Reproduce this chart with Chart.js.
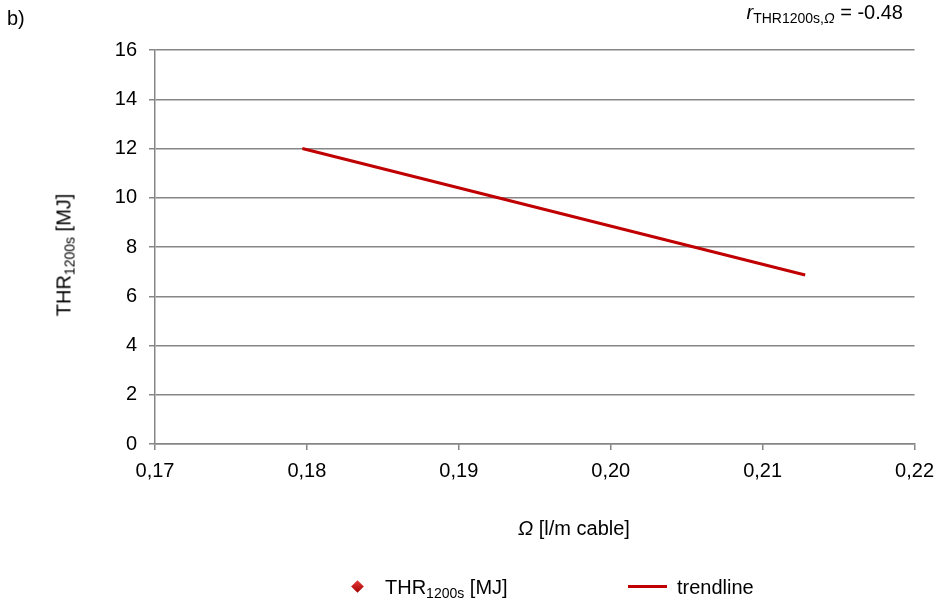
<!DOCTYPE html>
<html>
<head>
<meta charset="utf-8">
<script src="https://cdn.jsdelivr.net/npm/chart.js@4/dist/chart.umd.min.js"></script>
<style>
  body { margin: 0; background: #fff; font-family: "Liberation Sans", Arial, sans-serif; }
  #wrap { position: relative; width: 943px; height: 602px; }
  .lbl { position: absolute; font-size: 20px; color: #000; white-space: nowrap; line-height: 1; }
  .lbl sub { font-size: 14px; vertical-align: -4px; }
  #ytitle { left: 65px; top: 255px; transform: translate(-50%, -50%) rotate(-90deg); }
  #diamond { position: absolute; left: 353px; top: 582px; width: 9px; height: 9px; transform: rotate(45deg);
             background: linear-gradient(135deg, #e83a3a, #a00000); }
  #legline { position: absolute; left: 628px; top: 585px; width: 39px; height: 3px; background: #c00000; }
</style>
</head>
<body>
<div id="wrap">
  <canvas id="chart" width="943" height="602"></canvas>
  <div class="lbl" style="left:7px; top:8px;">b)</div>
  <div class="lbl" style="right:40px; top:2px;"><i>r</i><sub>THR1200s,<i>Ω</i></sub> = -0.48</div>
  <div class="lbl" id="ytitle">THR<sub>1200s</sub> [MJ]</div>
  <div class="lbl" style="left:518px; top:518px;"><i>Ω</i> [l/m cable]</div>
  <div id="diamond"></div>
  <div class="lbl" style="left:385px; top:577px;">THR<sub>1200s</sub> [MJ]</div>
  <div id="legline"></div>
  <div class="lbl" style="left:677px; top:577px;">trendline</div>
</div>
<script>
// measured points (none visible in the picture)
var omegaValues = [];
var thrValues = [];
// trendline end points
var trendX = [0.1797, 0.2128];
var trendY = [12.0, 6.86];

var xTicks = [0.17, 0.18, 0.19, 0.20, 0.21, 0.22];
var yTicks = [0, 2, 4, 6, 8, 10, 12, 14, 16];

var ctx = document.getElementById('chart').getContext('2d');
new Chart(ctx, {
    type: 'scatter',
    data: {
        datasets: [{
            label: 'THR1200s [MJ]',
            data: omegaValues.map(function(x, i) { return { x: x, y: thrValues[i] }; }),
            pointStyle: 'rectRot',
            pointRadius: 6,
            backgroundColor: '#c00000',
            borderColor: '#a00000'
        }, {
            label: 'trendline',
            type: 'line',
            data: trendX.map(function(x, i) { return { x: x, y: trendY[i] }; }),
            borderColor: '#c00000',
            borderWidth: 3,
            pointRadius: 0,
            fill: false
        }]
    },
    options: {
        responsive: false,
        animation: false,
        layout: { padding: { left: 100, right: 28, top: 50, bottom: 120 } },
        plugins: { legend: { display: false }, tooltip: { enabled: false } },
        scales: {
            x: {
                type: 'linear',
                min: 0.17, max: 0.22,
                afterBuildTicks: function(s) { s.ticks = xTicks.map(function(v) { return { value: v }; }); },
                afterFit: function(s) { s.height = 38; },
                grid: { drawOnChartArea: false, tickLength: 6, color: '#868686', lineWidth: 1.5 },
                border: { color: '#868686', width: 1.5 },
                ticks: {
                    padding: 9,
                    color: '#000',
                    font: { family: 'Liberation Sans', size: 20 },
                    callback: function(v) { return v.toFixed(2).replace('.', ','); }
                }
            },
            y: {
                min: 0, max: 16,
                afterBuildTicks: function(s) { s.ticks = yTicks.map(function(v) { return { value: v }; }); },
                afterFit: function(s) { s.width = 55; },
                grid: { tickLength: 6, color: '#868686', lineWidth: 1.5 },
                border: { color: '#868686', width: 1.5 },
                ticks: {
                    padding: 12,
                    color: '#000',
                    font: { family: 'Liberation Sans', size: 20 }
                }
            }
        }
    }
});
</script>
</body>
</html>
